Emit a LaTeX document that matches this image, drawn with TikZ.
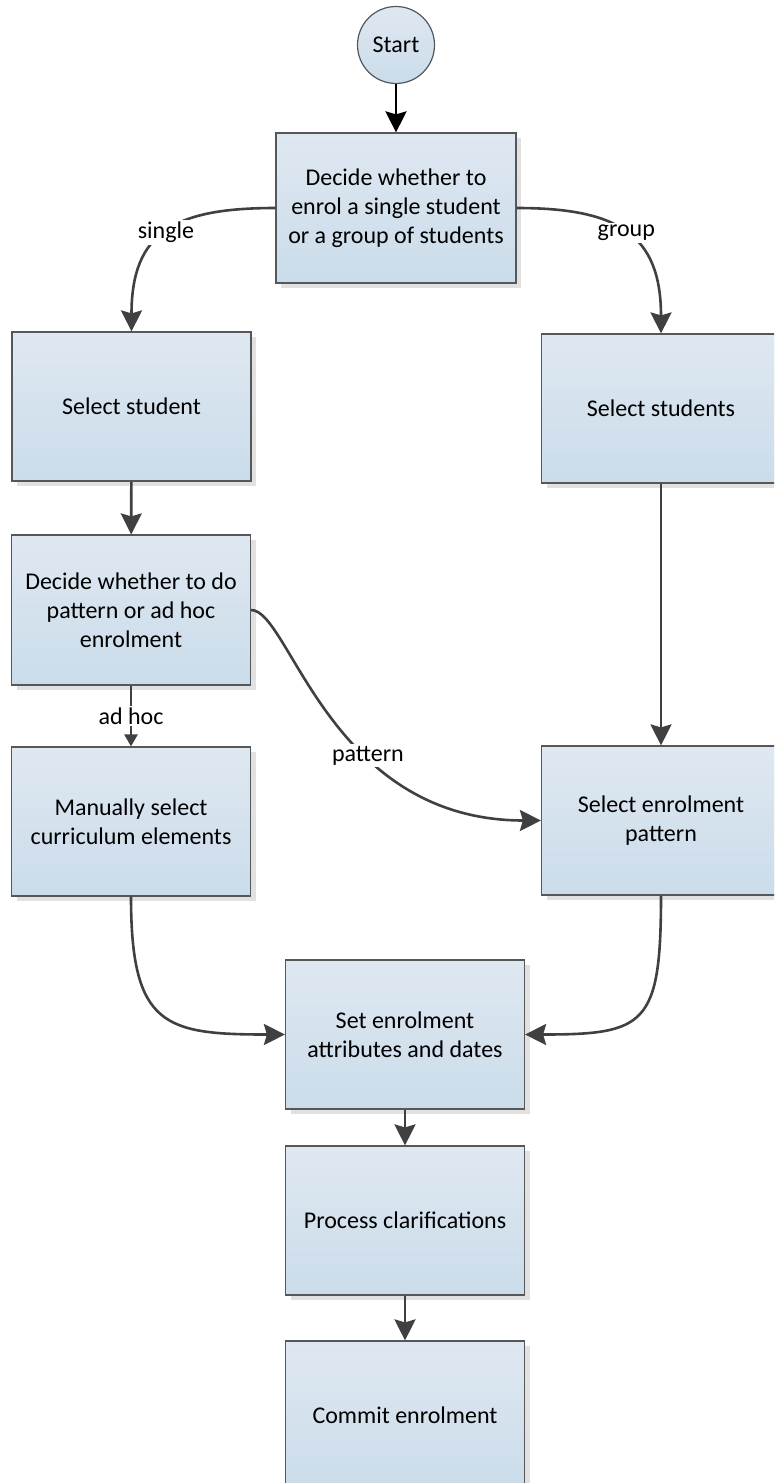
\documentclass[tikz,border=0pt]{standalone}
\usepackage{fontspec}
\setmainfont{Carlito}
\usetikzlibrary{arrows.meta,shadows}
\definecolor{boxtop}{HTML}{DFE8F1}
\definecolor{boxbot}{HTML}{CADCEA}
\definecolor{edgec}{HTML}{555759}
\definecolor{connc}{HTML}{404040}
\definecolor{shadowc}{HTML}{E1E1E1}
\begin{document}
\begin{tikzpicture}[x=1pt,y=-1pt,
  font=\fontsize{24}{29}\selectfont,
  procbox/.style={rectangle, draw=edgec, line width=1.2pt, top color=boxtop, bottom color=boxbot,
    minimum width=239pt, minimum height=149pt, align=center, inner sep=0pt,
    drop shadow={shadow xshift=5pt, shadow yshift=-5pt, fill=shadowc, opacity=1}},
  startc/.style={circle, draw=edgec, line width=1.2pt, top color=boxtop, bottom color=boxbot,
    minimum size=77pt, inner sep=0pt},
  conn/.style={draw=connc, line width=2.6pt, -{Stealth[length=21pt,width=21pt,inset=3pt]}},
  smallconn/.style={draw=connc, line width=2.6pt, -{Triangle[length=12pt,width=13pt]}},
  lbl/.style={fill=white, inner sep=2pt}]
\useasboundingbox (0,0) rectangle (774,1483);
\clip (0,0) rectangle (774,1483);
\fill[white] (0,0) rectangle (774,1483);

\node[startc] (start) at (396,45) {Start};
\node[procbox, minimum width=240pt, minimum height=150pt] (decide) at (396,208) {Decide whether to\\enrol a single student\\or a group of students};
\node[procbox] (sel1) at (131.5,406.5) {Select student};
\node[procbox] (selg) at (661,408.5) {Select students};
\node[procbox, minimum height=150pt] (dp) at (131,610) {Decide whether to do\\pattern or ad hoc\\enrolment};
\node[procbox] (man) at (131,821.5) {Manually select\\curriculum elements};
\node[procbox] (sep) at (661,820.5) {Select enrolment\\pattern};
\node[procbox] (set) at (405,1034.5) {Set enrolment\\attributes and dates};
\node[procbox] (proc) at (405,1220.5) {Process clarifications};
\node[procbox] (commit) at (405,1415.5) {Commit enrolment};

\draw[conn, draw=black, line width=2.8pt, -{Stealth[length=21pt,width=21pt,inset=3pt]}] (start) -- (decide);
\draw[conn] (decide.west) .. controls +(-100,0) and +(0,-100) .. node[lbl,pos=0.5] {single} (sel1.north);
\draw[conn] (decide.east) .. controls +(100,0) and +(0,-100) .. node[lbl,pos=0.5] {group} (selg.north);
\draw[conn] (sel1) -- (dp);
\draw[conn] (selg) -- (sep);
\draw[smallconn] (dp) -- node[lbl] {ad hoc} (man);
\draw[conn] (dp.east) .. controls +(39,0) and +(-212,0) .. node[lbl,pos=0.63] {pattern} (sep.west);
\draw[conn] (man.south) .. controls +(0,130) and +(-120,0) .. (set.west);
\draw[conn] (sep.south) .. controls +(0,130) and +(120,0) .. (set.east);
\draw[conn] (set) -- (proc);
\draw[conn] (proc) -- (commit);
\end{tikzpicture}
\end{document}
